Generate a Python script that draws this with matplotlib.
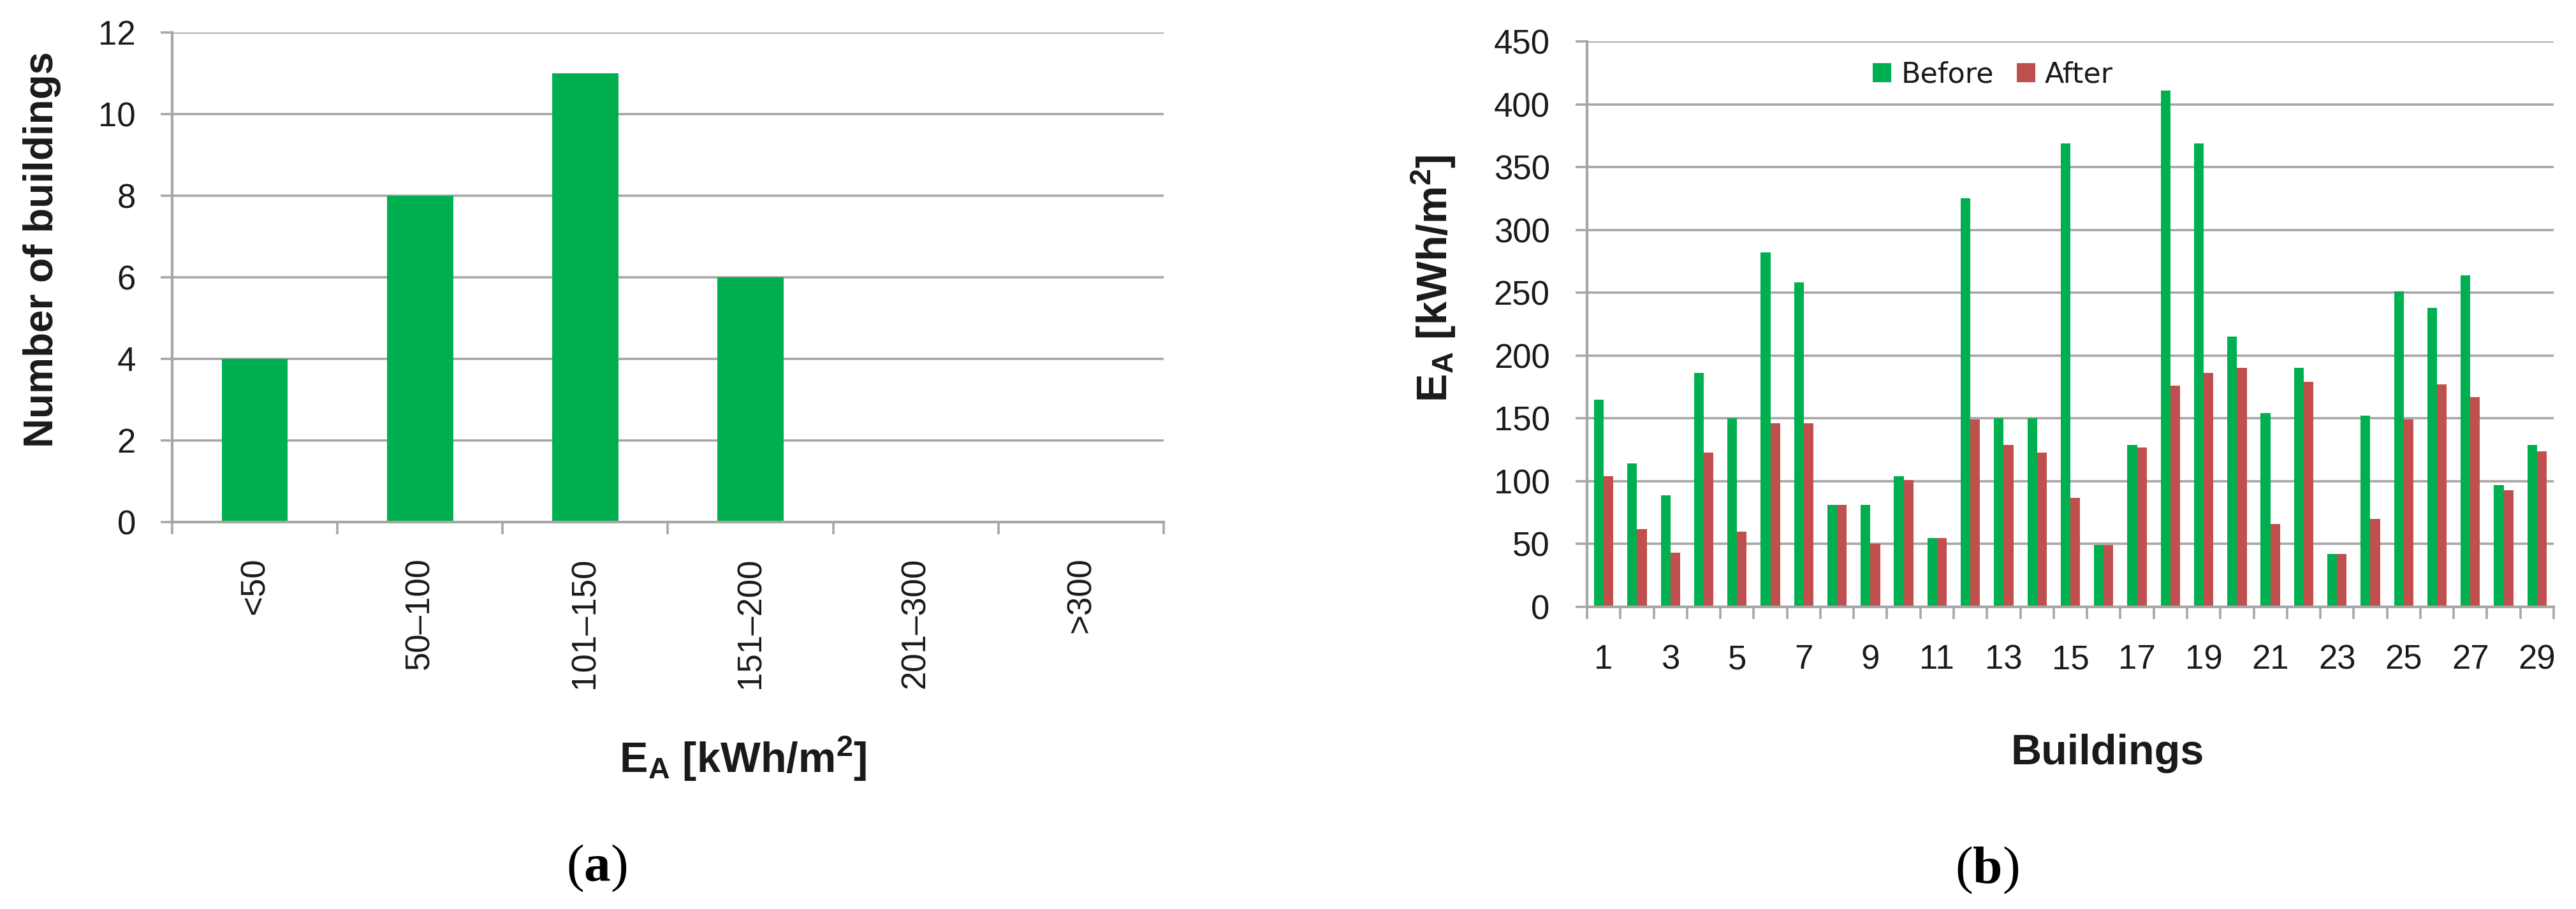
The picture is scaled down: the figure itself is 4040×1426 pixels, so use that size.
import matplotlib
matplotlib.use('Agg')
import matplotlib.pyplot as plt
import numpy as np

plt.rcParams['font.family'] = ['Liberation Sans', 'DejaVu Sans']
plt.rcParams['mathtext.fontset'] = 'custom'
plt.rcParams['mathtext.rm'] = 'Liberation Sans'
plt.rcParams['mathtext.bf'] = 'Liberation Sans:bold'
plt.rcParams['mathtext.it'] = 'Liberation Sans:italic'
plt.rcParams['mathtext.sf'] = 'Liberation Serif:bold'

# ---------------- data ----------------
ranges = ['<50', '50\u2013100', '101\u2013150', '151\u2013200', '201\u2013300', '>300']
counts = [4, 8, 11, 6, 0, 0]

buildings = list(range(1, 30))
before = [165, 114, 89, 186, 150, 282, 258, 81, 81, 104, 55, 325, 150, 150, 369,
          49, 129, 411, 369, 215, 154, 190, 42, 152, 251, 238, 264, 97, 129]
after = [104, 62, 43, 123, 60, 146, 146, 81, 50, 101, 55, 149, 129, 123, 87,
         49, 127, 176, 186, 190, 66, 179, 42, 70, 149, 177, 167, 93, 124]

left_yticks = [0, 2, 4, 6, 8, 10, 12]
right_yticks = [0, 50, 100, 150, 200, 250, 300, 350, 400, 450]

# ---------------- styling ----------------
W, H = 4041, 1426
GRID = '#a6a6a6'
GREEN = '#00B050'
RED = '#C0504D'
TXT = '#1a1a1a'

fig = plt.figure(figsize=(W / 100, H / 100), dpi=100)


def rect(x0, y0, x1, y1):
    return [x0 / W, 1 - y1 / H, (x1 - x0) / W, (y1 - y0) / H]


ax1 = fig.add_axes(rect(270, 51, 1825, 819))
ax2 = fig.add_axes(rect(2489, 65, 4005, 952))


def style(ax, ncat, ypad, xpad):
    ax.set_axisbelow(True)
    for s in ['top', 'right']:
        ax.spines[s].set_visible(False)
    for s in ['left', 'bottom']:
        ax.spines[s].set_color(GRID)
        ax.spines[s].set_linewidth(3)
    ax.yaxis.grid(True, color=GRID, linewidth=2.6)
    ax.set_xlim(-0.5, ncat - 0.5)
    ax.set_xticks(np.arange(ncat + 1) - 0.5)
    ax.set_xticklabels([])
    ax.tick_params(axis='x', which='major', length=14, width=2.6,
                   color=GRID, direction='out')
    ax.tick_params(axis='x', which='minor', length=0, pad=xpad,
                   labelsize=38, labelcolor=TXT)
    ax.tick_params(axis='y', length=13, width=2.6, color=GRID,
                   labelsize=38, labelcolor=TXT, pad=ypad)


# ---- (a) histogram ----
x = np.arange(len(ranges))
ax1.bar(x, counts, width=0.4, color=GREEN, zorder=2)
ax1.set_ylim(0, 12)
ax1.set_yticks(left_yticks)
style(ax1, len(ranges), 28, 40)
ax1.set_xticks(x, minor=True)
ax1.set_xticklabels(ranges, minor=True, rotation=90)

# ---- (b) before/after ----
xb = np.arange(len(buildings))
bw = 0.29
ax2.bar(xb - bw / 2, before, width=bw, color=GREEN, label='Before', zorder=2)
ax2.bar(xb + bw / 2, after, width=bw, color=RED, label='After', zorder=2)
ax2.set_ylim(0, 450)
ax2.set_yticks(right_yticks)
style(ax2, len(buildings), 29, 42)
ax2.set_xticks(xb[::2], minor=True)
ax2.set_xticklabels([str(b) for b in buildings[::2]], minor=True)

ax2.legend(loc='center', bbox_to_anchor=(0.42, 0.941), ncol=2, frameon=False,
           prop={'family': 'DejaVu Sans', 'size': 32},
           handlelength=0.65, handleheight=0.65, handletextpad=0.35,
           columnspacing=0.8, labelcolor=TXT)

# ---- axis titles ----
fig.text(66 / W, 1 - 391 / H, 'Number of buildings', rotation=90,
         ha='center', va='center', fontsize=46, fontweight='bold', color=TXT)
fig.text(1165 / W, 1 - 1212 / H, r'$\mathbf{E_{A}\ [kWh/m^{2}]}$',
         ha='center', va='baseline', fontsize=48, color=TXT)
fig.text(2248 / W, 1 - 437 / H, r'$\mathbf{E_{A}\ [kWh/m^{2}]}$', rotation=90,
         ha='center', va='center', fontsize=48, color=TXT)
fig.text(3305 / W, 1 - 1199 / H, 'Buildings', ha='center', va='baseline',
         fontsize=48, fontweight='bold', color=TXT)

# ---- panel letters ----
fig.text(936 / W, 1 - 1362 / H, r'($\mathsf{a}$)', family='Liberation Serif',
         ha='center', va='center', fontsize=60, color='black')
fig.text(3116 / W, 1 - 1365 / H, r'($\mathsf{b}$)', family='Liberation Serif',
         ha='center', va='center', fontsize=60, color='black')

fig.savefig('out.png', dpi=100)
